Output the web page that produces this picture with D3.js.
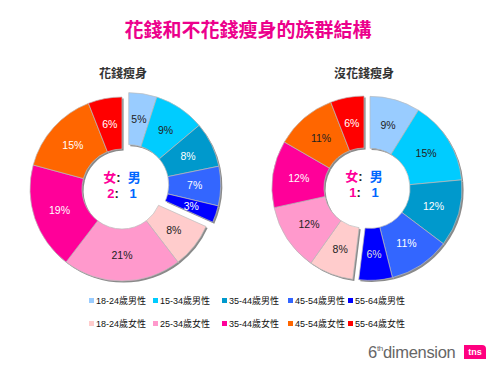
<!DOCTYPE html>
<html><head><meta charset="utf-8">
<script src="https://cdn.jsdelivr.net/npm/d3@7"></script>
<style>
html,body{margin:0;padding:0;background:#fff;}
svg text{font-family:"Liberation Sans",Arial,"Noto Sans CJK TC",sans-serif;}
</style></head>
<body><svg id="c" width="500" height="380"></svg>
<script>
const title = "花錢和不花錢瘦身的族群結構";
const chartTitles = ["花錢瘦身", "沒花錢瘦身"];
const categories = ["18-24歲男性","15-34歲男性","35-44歲男性","45-54歲男性","55-64歲男性",
                    "18-24歲女性","25-34歲女性","35-44歲女性","45-54歲女性","55-64歲女性"];
const colors = ["#99ccff","#00ccff","#0099cc","#3366ff","#0000ff",
                "#ffcccc","#ff99cc","#ff0099","#ff6600","#ff0000"];
const labelColors = ["#222","#222","#fff","#fff","#fff","#222","#222","#fff","#fff","#fff"];
const spendValues = [5, 9, 8, 7, 3, 8, 21, 19, 15, 6];
const noSpendValues = [9, 15, 12, 11, 6, 8, 12, 12, 11, 6];
const noSpendLabelColors = ["#222","#222","#fff","#fff","#ddd","#222","#222","#fff","#222","#fff"];
const ratios = [["2","1"], ["1","1"]];

const svg = d3.select("#c");
svg.append("text").attr("x", 248).attr("y", 37).attr("text-anchor","middle")
  .attr("font-size", 19).attr("font-weight","bold").attr("fill","#ec008c")
  .style("font-family",'"Noto Sans CJK TC",sans-serif').text(title);

const outerR = 92, innerR = 40;
const arc = d3.arc().innerRadius(innerR).outerRadius(outerR);
const pie = d3.pie().sort(null).value(d => d);

function donut(values, cx, cy, explode, name, ratio, lblCols, titleX) {
  svg.append("text").attr("x", titleX).attr("y", 78).attr("text-anchor","middle")
    .attr("font-size", 12).attr("font-weight","bold").attr("fill","#333")
    .style("font-family",'"Noto Sans CJK TC",sans-serif').text(name);
  const arcs = pie(values);
  const menEnd = arcs[4].endAngle;
  const mid = menEnd / 2;
  const dx = explode * Math.sin(mid), dy = -explode * Math.cos(mid);
  const g = svg.append("g").attr("transform", `translate(${cx},${cy})`);
  const offs = i => i < 5 ? [dx, dy] : [0, 0];
  g.selectAll("path.sh").data(arcs).join("path").attr("class","sh")
    .attr("d", arc).attr("fill", "#8a8a8a")
    .attr("transform", (d,i) => `translate(${offs(i)[0]+1.6},${offs(i)[1]+1.6})`);
  g.selectAll("path.sl").data(arcs).join("path").attr("class","sl")
    .attr("d", arc).attr("fill", (d,i) => colors[i])
    .attr("stroke", "#bbb").attr("stroke-width", 0.7)
    .attr("transform", (d,i) => `translate(${offs(i)[0]},${offs(i)[1]})`);
  g.selectAll("text.lb").data(arcs).join("text").attr("class","lb")
    .attr("transform", (d,i) => { const c = arc.centroid(d); return `translate(${c[0]+offs(i)[0]},${c[1]+offs(i)[1]})`; })
    .attr("text-anchor","middle").attr("dy","0.36em")
    .attr("font-size", 10.5).attr("fill", (d,i) => lblCols[i])
    .text(d => d.data + "%");
  const t1 = g.append("text").attr("y", -7).attr("text-anchor","middle")
    .attr("font-size", 13).attr("font-weight","bold").style("white-space","pre");
  t1.append("tspan").attr("fill","#ff0099").style("font-family",'"Noto Sans CJK TC",sans-serif').text("女");
  t1.append("tspan").attr("fill","#222").text(":  ");
  t1.append("tspan").attr("fill","#0066ff").style("font-family",'"Noto Sans CJK TC",sans-serif').text("男");
  const t2 = g.append("text").attr("y", 9).attr("text-anchor","middle")
    .attr("font-size", 13).attr("font-weight","bold").style("white-space","pre");
  t2.append("tspan").attr("fill","#ff0099").text(ratio[0]);
  t2.append("tspan").attr("fill","#222").text(":   ");
  t2.append("tspan").attr("fill","#0066ff").text(ratio[1]);
}
donut(spendValues, 122, 189, 8, chartTitles[0], ratios[0], labelColors, 123);
donut(noSpendValues, 364, 188, 6, chartTitles[1], ratios[1], noSpendLabelColors, 364);

// legend
const colX = [89, 153, 222, 288, 348];
const rowY = [301, 324];
const lg = svg.append("g");
categories.forEach((c, i) => {
  const x = colX[i % 5], y = rowY[Math.floor(i / 5)];
  lg.append("rect").attr("x", x).attr("y", y - 3).attr("width", 5).attr("height", 5).attr("fill", colors[i]);
  lg.append("text").attr("x", x + 7).attr("y", y).attr("dy","0.35em")
    .attr("font-size", 9).attr("fill","#111").text(c);
});

// logo
const logo = svg.append("text").attr("x", 368).attr("y", 358).attr("font-size", 16.5).attr("fill","#666")
  .style("font-family",'"Liberation Sans",Arial,sans-serif').style("letter-spacing","-0.3px");
logo.append("tspan").text("6");
logo.append("tspan").attr("font-size", 8).attr("dy", -7).text("th");
logo.append("tspan").attr("dy", 7).text("dimension");
svg.append("path").attr("d","M464,345 h18 q4,0 4,4 v10 h-22 z").attr("fill","#ff0080");
svg.append("text").attr("x", 475).attr("y", 355).attr("text-anchor","middle").attr("font-size", 9)
  .attr("font-weight","bold").attr("fill","#fff").text("tns");
</script></body></html>
